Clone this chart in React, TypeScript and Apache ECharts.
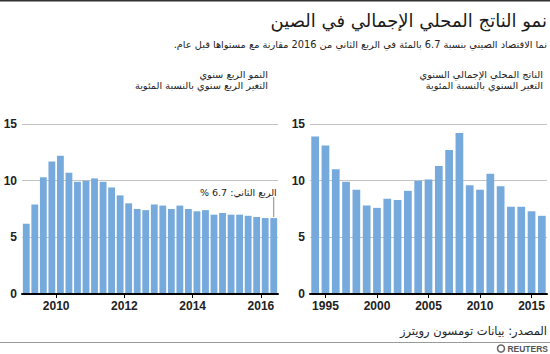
import React, { useEffect, useRef } from 'react';
import * as echarts from 'echarts';

const quarters = [
  '2009Q1', '2009Q2', '2009Q3', '2009Q4',
  '2010Q1', '2010Q2', '2010Q3', '2010Q4',
  '2011Q1', '2011Q2', '2011Q3', '2011Q4',
  '2012Q1', '2012Q2', '2012Q3', '2012Q4',
  '2013Q1', '2013Q2', '2013Q3', '2013Q4',
  '2014Q1', '2014Q2', '2014Q3', '2014Q4',
  '2015Q1', '2015Q2', '2015Q3', '2015Q4',
  '2016Q1', '2016Q2',
];
const quarterlyGrowth = [
  6.2, 7.9, 10.3, 11.7,
  12.2, 10.7, 9.9, 10.0,
  10.2, 9.9, 9.4, 8.7,
  8.0, 7.5, 7.4, 7.9,
  7.8, 7.5, 7.8, 7.5,
  7.3, 7.4, 7.0, 7.15,
  7.0, 7.0, 6.9, 6.8,
  6.7, 6.7,
];
const leftTickLabels = ['2010', '2012', '2014', '2016'];

const years = [
  '1994', '1995', '1996', '1997', '1998', '1999', '2000', '2001', '2002', '2003',
  '2004', '2005', '2006', '2007', '2008', '2009', '2010', '2011', '2012', '2013',
  '2014', '2015', '2016',
];
const annualGrowth = [
  13.9, 13.1, 11.0, 9.9, 9.2, 7.8, 7.6, 8.4, 8.3, 9.1,
  10.0, 10.1, 11.3, 12.7, 14.2, 9.6, 9.2, 10.6, 9.5, 7.7,
  7.7, 7.3, 6.9,
];

const titleText = 'نمو الناتج المحلي الإجمالي في الصين';
const subtitleText = 'نما الاقتصاد الصيني بنسبة 6.7 بالمئة في الربع الثاني من 2016 مقارنة مع مستواها قبل عام.\u200F';
const leftHeader1 = 'النمو الربع سنوي';
const leftHeader2 = 'التغير الربع سنوي بالنسبة المئوية';
const rightHeader1 = 'الناتج المحلي الإجمالي السنوي';
const rightHeader2 = 'التغير السنوي بالنسبة المئوية';
const annotationPrefix = 'الربع الثاني: ';
const sourceText = 'المصدر: بيانات تومسون رويترز';

const AR = '"DejaVu Sans", "Liberation Sans", sans-serif';
const LAT = '"Liberation Sans", Arial, sans-serif';
const BAR = '#76aadc';

export default function App() {
  const ref = useRef<HTMLDivElement>(null);

  useEffect(() => {
    if (!ref.current) return;
    const chart = echarts.init(ref.current, null, { renderer: 'svg' });

    const leftTickPos = leftTickLabels.map((y) => quarters.indexOf(y + 'Q1'));
    const yearInterval = (_i: number, v: string) => Number(v) % 5 === 0;

    const yAxisFor = (gridIndex: number) => ({
      type: 'value',
      gridIndex,
      min: 0,
      max: 15,
      interval: 5,
      axisLine: { show: false },
      axisTick: { show: false },
      axisLabel: { color: '#222', fontFamily: LAT, fontWeight: 'bold', fontSize: 12, margin: 5 },
      splitLine: { lineStyle: { color: '#c4c4c4', width: 1 } },
    });

    const labelStyle = { color: '#222', fontFamily: LAT, fontWeight: 'bold', fontSize: 12, margin: 6 };

    chart.setOption({
      animation: false,
      grid: [
        { left: 22, top: 124, width: 256, height: 170 },
        { left: 310, top: 124, width: 237, height: 170 },
      ],
      xAxis: [
        {
          type: 'category',
          gridIndex: 0,
          data: quarters,
          axisLine: { lineStyle: { color: '#000', width: 2 } },
          axisTick: { show: false },
          axisLabel: { show: false },
          z: 5,
        },
        {
          type: 'value',
          gridIndex: 0,
          position: 'bottom',
          min: 0,
          max: quarters.length,
          axisLine: { show: false },
          splitLine: { show: false },
          axisTick: { show: true, customValues: leftTickPos, length: 4, lineStyle: { color: '#000', width: 1 } },
          axisLabel: {
            ...labelStyle,
            customValues: leftTickPos,
            formatter: (v: number) => {
              const i = leftTickPos.indexOf(Math.round(v));
              return i >= 0 ? leftTickLabels[i] : '';
            },
          },
        },
        {
          type: 'category',
          gridIndex: 1,
          data: years,
          axisLine: { lineStyle: { color: '#000', width: 2 } },
          axisTick: { show: true, alignWithLabel: true, interval: yearInterval, length: 4, lineStyle: { color: '#000', width: 1 } },
          axisLabel: { ...labelStyle, interval: yearInterval },
          z: 5,
        },
      ],
      yAxis: [yAxisFor(0), yAxisFor(1)],
      series: [
        {
          type: 'bar',
          xAxisIndex: 0,
          yAxisIndex: 0,
          data: quarterlyGrowth,
          barCategoryGap: '20%',
          itemStyle: { color: BAR },
        },
        {
          type: 'bar',
          xAxisIndex: 2,
          yAxisIndex: 1,
          data: annualGrowth,
          barCategoryGap: '25%',
          itemStyle: { color: BAR },
        },
      ],
    });

    const last = quarterlyGrowth.length - 1;
    const lastVal = quarterlyGrowth[last];
    const pBar = chart.convertToPixel({ seriesIndex: 0 }, [last, lastVal]) as number[];
    const lineTop = pBar[1] - 21;

    const txt = (text: string, x: number, y: number, size: number, opts: any = {}) => ({
      type: 'text',
      x,
      y,
      style: {
        text,
        fontSize: size,
        fontFamily: AR,
        fill: '#222',
        align: 'right',
        verticalAlign: 'middle',
        ...opts,
      },
    });

    chart.setOption({
      graphic: [
        { type: 'rect', shape: { x: 0, y: 0, width: 550, height: 1.5 }, style: { fill: '#333' } },
        txt(titleText, 547, 20, 18, { fill: '#1a1a1a' }),
        txt(subtitleText, 547, 44, 9.8),
        txt(leftHeader1, 268, 74, 9.8, { fill: '#222' }),
        txt(leftHeader2, 268, 85, 9.8, { fill: '#222' }),
        txt(rightHeader1, 543, 74, 9.8, { fill: '#222' }),
        txt(rightHeader2, 543, 85, 9.8, { fill: '#222' }),
        txt(annotationPrefix + lastVal.toFixed(1) + ' %\u200F', pBar[0] + 3, lineTop - 5, 9.5, { fill: '#222' }),
        {
          type: 'line',
          shape: { x1: pBar[0], y1: pBar[1] - 1, x2: pBar[0], y2: lineTop },
          style: { stroke: '#888', lineWidth: 1 },
        },
        txt(sourceText, 547, 331, 11.5),
        { type: 'line', shape: { x1: 0, y1: 342.5, x2: 550, y2: 342.5 }, style: { stroke: '#999', lineWidth: 1 } },
        { type: 'circle', shape: { cx: 501, cy: 348.5, r: 3.5 }, style: { fill: 'none', stroke: '#666', lineWidth: 1.5 } },
        txt('REUTERS', 548, 348.5, 8.5, { fontFamily: LAT, fontWeight: 'bold', fill: '#555' }),
      ],
    });

    return () => chart.dispose();
  }, []);

  return (
    <div
      ref={ref}
      style={{ position: 'absolute', left: 0, top: 0, width: 550, height: 354 }}
    />
  );
}
